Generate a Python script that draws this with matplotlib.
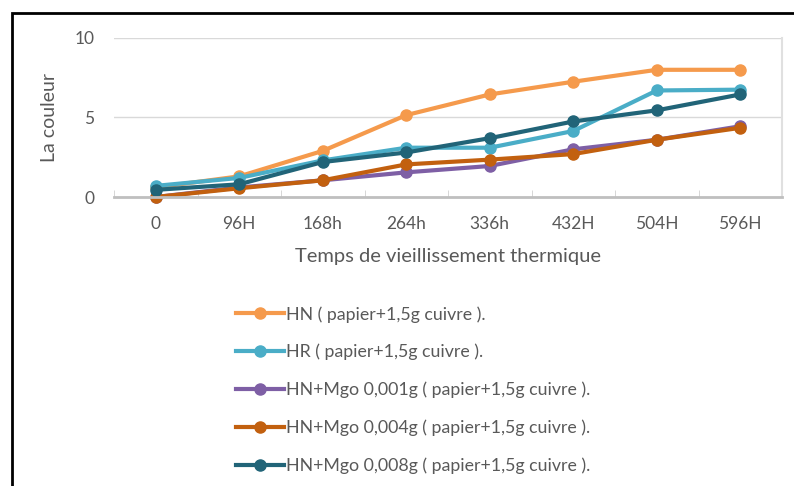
import matplotlib.pyplot as plt
from matplotlib.patches import Rectangle

categories = ['0', '96H', '168h', '264h', '336h', '432H', '504H', '596H']

hn = [0.6, 1.3, 2.9, 5.15, 6.45, 7.25, 8.0, 8.0]
hr = [0.7, 1.2, 2.3, 3.1, 3.1, 4.15, 6.7, 6.75]
mgo_001 = [0.0, 0.6, 1.05, 1.55, 1.95, 3.0, 3.6, 4.45]
mgo_004 = [0.0, 0.55, 1.05, 2.05, 2.35, 2.7, 3.6, 4.35]
mgo_008 = [0.45, 0.8, 2.2, 2.8, 3.7, 4.75, 5.45, 6.45]

labels = ['HN ( papier+1,5g cuivre ).',
          'HR ( papier+1,5g cuivre ).',
          'HN+Mgo 0,001g ( papier+1,5g cuivre ).',
          'HN+Mgo 0,004g ( papier+1,5g cuivre ).',
          'HN+Mgo 0,008g ( papier+1,5g cuivre ).']
colors = ['#F59A4C', '#4AADC7', '#7E5FA5', '#C2600F', '#216478']

plt.rcParams['font.family'] = ['Lato', 'DejaVu Sans']

fig = plt.figure(figsize=(7.94, 4.86), dpi=100)
ax = fig.add_axes([114 / 794, 1 - 197 / 486, 668 / 794, 159 / 486])

x = range(len(categories))
for vals, lab, col in zip([hn, hr, mgo_001, mgo_004, mgo_008], labels, colors):
    ax.plot(x, vals, color=col, lw=3, marker='o', ms=8, label=lab, clip_on=False)

ax.set_xlim(-0.5, len(categories) - 0.5)
ax.set_ylim(0, 10)
ax.set_yticks([0, 5, 10])
ax.set_xticks(list(x))
ax.set_xticklabels(categories)
ax.set_xticks([i + 0.5 for i in range(-1, len(categories))], minor=True)
ax.tick_params(axis='x', which='major', length=0, pad=14, labelsize=12.5, colors='#595959')
ax.tick_params(axis='x', which='minor', length=5, direction='in', color='#D0D0D0')
ax.tick_params(axis='y', length=0, pad=14, labelsize=12.5, colors='#595959')
ax.grid(axis='y', color='#D9D9D9', lw=1)
ax.set_axisbelow(True)
for s in ['top', 'left']:
    ax.spines[s].set_visible(False)
ax.spines['bottom'].set_color('#BFBFBF')
ax.spines['bottom'].set_linewidth(2)
ax.spines['right'].set_color('#E0E0E0')
ax.spines['right'].set_linewidth(1.5)

ax.set_xlabel('Temps de vieillissement thermique', fontsize=14.5, color='#595959', labelpad=11)
ax.set_ylabel('La couleur', fontsize=14, color='#595959', labelpad=12)

fig.legend(loc='upper left', bbox_to_anchor=(220 / 794, 1 - 290 / 486), frameon=False,
           fontsize=12.8, labelcolor='#595959', handlelength=2.7, handletextpad=0.1,
           labelspacing=1.2)

fig.add_artist(Rectangle((12 / 794, -0.1), 1.2, 1 - 13 / 486 + 0.1, transform=fig.transFigure,
                         fill=False, edgecolor='black', lw=2))

fig.savefig('out.png', dpi=100)
